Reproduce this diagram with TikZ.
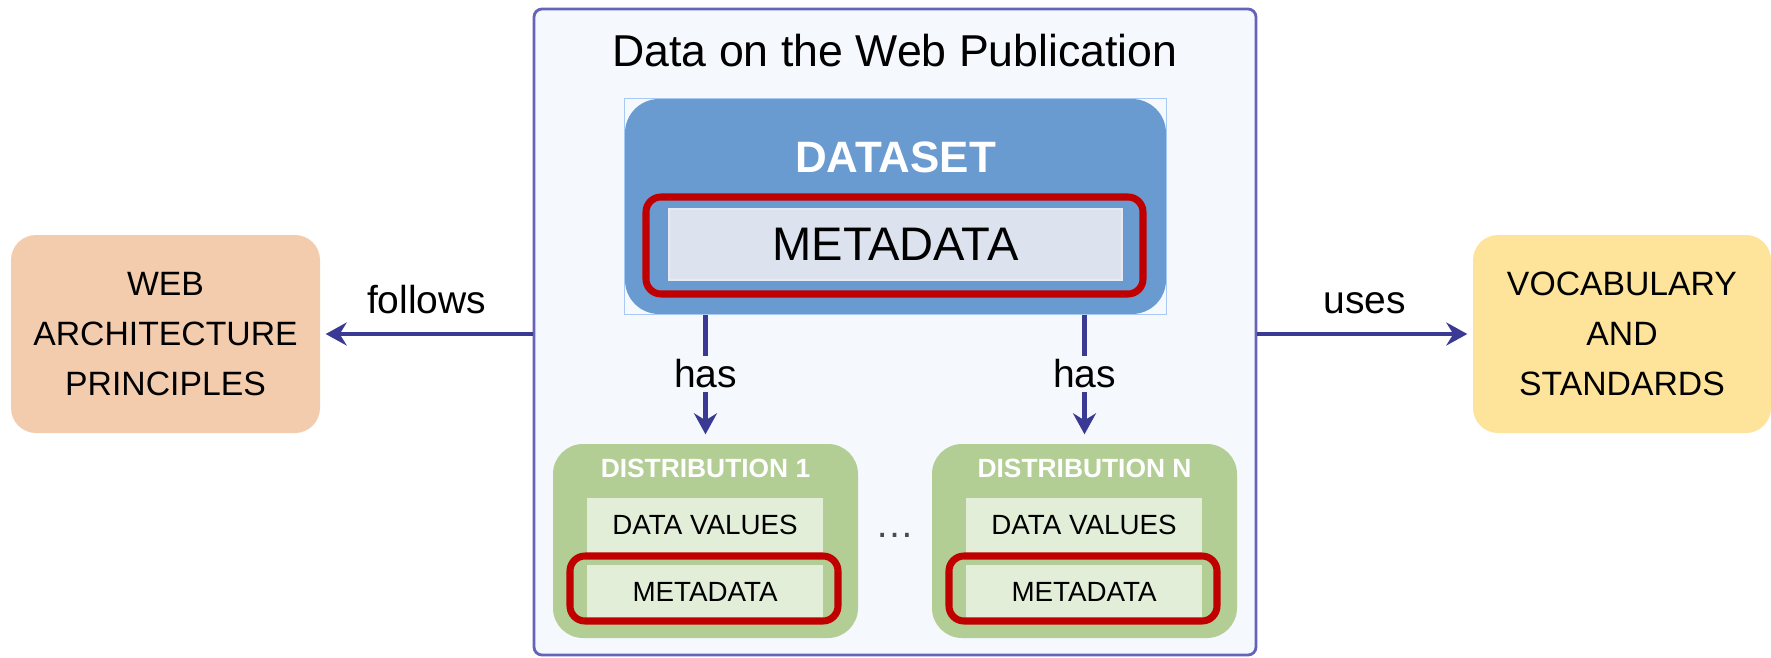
\documentclass[tikz,border=0pt]{standalone}
\usepackage{fontspec}
\setmainfont{Liberation Sans}
\usetikzlibrary{arrows.meta}
\definecolor{publine}{HTML}{6464B8}
\definecolor{pubfill}{HTML}{F5F8FD}
\definecolor{linkblue}{HTML}{3A3A94}
\definecolor{setblue}{HTML}{6A9BD0}
\definecolor{selblue}{HTML}{A8C8F5}
\definecolor{metafill}{HTML}{DCE3EE}
\definecolor{ringred}{HTML}{C00000}
\definecolor{distgreen}{HTML}{B3CE95}
\definecolor{valuegreen}{HTML}{E2EED8}
\definecolor{peach}{HTML}{F3CCAE}
\definecolor{sand}{HTML}{FEE49A}
\begin{document}
\begin{tikzpicture}[font=\fontsize{11.1}{13}\selectfont, >={Stealth[length=2.1mm,width=2.3mm,inset=0.7mm]}]
    \tikzstyle{pub box}=[draw=publine,line width=0.8pt,fill=pubfill,rounded corners=0.8mm,minimum width=7.22cm,minimum height=6.46cm]
    \tikzstyle{set box}=[fill=setblue,rounded corners=3.4mm,minimum width=5.41cm,minimum height=2.15cm]
    \tikzstyle{meta box}=[draw=metafill!70!white,line width=0.6pt,fill=metafill,minimum width=4.53cm,minimum height=0.71cm,font=\fontsize{13.4}{15}\selectfont]
    \tikzstyle{red ring}=[draw=ringred,line width=2pt,rounded corners=1.5mm]
    \tikzstyle{dist box}=[fill=distgreen,rounded corners=3mm,minimum width=3.05cm,minimum height=1.94cm]
    \tikzstyle{value box}=[fill=valuegreen,minimum width=2.36cm,minimum height=0.55cm,font=\fontsize{7.9}{9}\selectfont]
    \tikzstyle{side box}=[rounded corners=2.5mm,minimum height=1.98cm,align=center,font=\fontsize{9.6}{14.2}\selectfont]
    \tikzstyle{link}=[draw=linkblue,line width=1.3pt,->]

    \useasboundingbox (0,0) rectangle (17.71,6.57);

    \node(pub)[pub box] at (8.95,3.25){};
    \node(title)[font=\fontsize{12.7}{15}\selectfont] at (8.95,6.06){Data on the Web Publication};

    \node(dataset)[set box] at (8.955,4.505){};
    \draw[selblue,line width=0.4pt](dataset.south west) rectangle (dataset.north east);
    \node(settitle)[text=white,font=\fontsize{12.5}{15}\selectfont\bfseries] at (8.955,5.0){DATASET};
    \node(meta)[meta box] at (8.955,4.125){METADATA};
    \node(metaring)[red ring,minimum width=4.97cm,minimum height=0.97cm] at (8.945,4.115){};

    \node(dist1)[dist box] at (7.055,1.16){};
    \node(dist1title)[text=white,font=\fontsize{7.5}{9}\selectfont\bfseries] at (7.055,1.89){DISTRIBUTION 1};
    \node(values1)[value box] at (7.05,1.32){DATA VALUES};
    \node(meta1)[value box] at (7.05,0.65){METADATA};
    \node(ring1)[red ring,minimum width=2.68cm,minimum height=0.65cm] at (7.04,0.685){};

    \node(distn)[dist box] at (10.845,1.16){};
    \node(distntitle)[text=white,font=\fontsize{7.5}{9}\selectfont\bfseries] at (10.845,1.89){DISTRIBUTION N};
    \node(valuesn)[value box] at (10.84,1.32){DATA VALUES};
    \node(metan)[value box] at (10.84,0.65){METADATA};
    \node(ringn)[red ring,minimum width=2.68cm,minimum height=0.65cm] at (10.83,0.685){};

    \node(dots)[text=black!70] at (8.95,1.22){\dots};

    \node(web)[side box,fill=peach,minimum width=3.09cm] at (1.655,3.23){WEB\\ARCHITECTURE\\PRINCIPLES};
    \node(vocab)[side box,fill=sand,minimum width=2.98cm] at (16.22,3.23){VOCABULARY\\AND\\STANDARDS};

    \draw[link,shorten >=0.9mm](dataset.south -| dist1.north)--(dist1.north)node[pos=0.46,fill=pubfill,inner sep=1pt]{has};
    \draw[link,shorten >=0.9mm](dataset.south -| distn.north)--(distn.north)node[pos=0.46,fill=pubfill,inner sep=1pt]{has};
    \draw[link,shorten >=0.5mm](pub.west |- web.east)--(web.east)node[midway,above=0.6mm]{follows};
    \draw[link,shorten >=0.5mm](pub.east |- vocab.west)--(vocab.west)node[midway,above=0.6mm]{uses};
\end{tikzpicture}
\end{document}
